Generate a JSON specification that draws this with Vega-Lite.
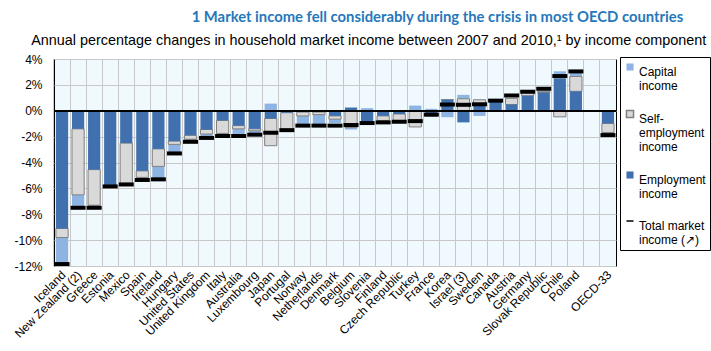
{
  "$schema": "https://vega.github.io/schema/vega-lite/v6.json",
  "background": "white",
  "padding": {"left": 11, "right": 2, "top": 10, "bottom": 4},
  "title": {
    "text": "1 Market income fell considerably during the crisis in most OECD countries",
    "anchor": "start", "frame": "bounds", "dx": 180,
    "font": "Lato", "fontSize": 14.8, "fontWeight": "bold", "color": "#2677bb", "offset": 7
  },
  "datasets": {
    "income": [
      {"country": "Iceland", "Employment income": -9.1, "Self-employment income": -0.7, "Capital income": -2.1, "Total": -11.85},
      {"country": "New Zealand (2)", "Employment income": -1.4, "Self-employment income": -5.1, "Capital income": -0.9, "Total": -7.5},
      {"country": "Greece", "Employment income": -4.55, "Self-employment income": -2.75, "Capital income": -0.05, "Total": -7.5},
      {"country": "Estonia", "Employment income": -5.8, "Self-employment income": 0, "Capital income": 0.05, "Total": -5.85},
      {"country": "Mexico", "Employment income": -2.5, "Self-employment income": -3.1, "Capital income": -0.15, "Total": -5.7},
      {"country": "Spain", "Employment income": -4.65, "Self-employment income": -0.5, "Capital income": -0.05, "Total": -5.35},
      {"country": "Ireland", "Employment income": -2.95, "Self-employment income": -1.35, "Capital income": -1.15, "Total": -5.3},
      {"country": "Hungary", "Employment income": -2.35, "Self-employment income": -0.25, "Capital income": -0.6, "Total": -3.3},
      {"country": "United States", "Employment income": -1.9, "Self-employment income": -0.3, "Capital income": -0.1, "Total": -2.4},
      {"country": "United Kingdom", "Employment income": -1.45, "Self-employment income": -0.35, "Capital income": -0.15, "Total": -2.1},
      {"country": "Italy", "Employment income": -0.75, "Self-employment income": -1.0, "Capital income": -0.15, "Total": -1.95},
      {"country": "Australia", "Employment income": -1.15, "Self-employment income": -0.25, "Capital income": -0.45, "Total": -1.95},
      {"country": "Luxembourg", "Employment income": -1.4, "Self-employment income": -0.15, "Capital income": -0.2, "Total": -1.85},
      {"country": "Japan", "Employment income": -0.6, "Self-employment income": -2.1, "Capital income": 0.55, "Total": -1.7},
      {"country": "Portugal", "Employment income": -0.15, "Self-employment income": -1.3, "Capital income": 0, "Total": -1.5},
      {"country": "Norway", "Employment income": -0.1, "Self-employment income": -0.3, "Capital income": -0.7, "Total": -1.15},
      {"country": "Netherlands", "Employment income": -0.1, "Self-employment income": -0.2, "Capital income": -0.75, "Total": -1.15},
      {"country": "Denmark", "Employment income": -0.4, "Self-employment income": -0.25, "Capital income": -0.3, "Total": -1.15},
      {"country": "Belgium", "Employment income": 0.25, "Self-employment income": -1.3, "Capital income": -0.15, "Total": -1.1},
      {"country": "Slovenia", "Employment income": -0.8, "Self-employment income": 0, "Capital income": 0.2, "Total": -0.95},
      {"country": "Finland", "Employment income": -0.4, "Self-employment income": -0.35, "Capital income": -0.1, "Total": -0.9},
      {"country": "Czech Republic", "Employment income": -0.25, "Self-employment income": -0.5, "Capital income": -0.05, "Total": -0.85},
      {"country": "Turkey", "Employment income": -0.05, "Self-employment income": -1.2, "Capital income": 0.4, "Total": -0.8},
      {"country": "France", "Employment income": -0.45, "Self-employment income": 0, "Capital income": 0.15, "Total": -0.3},
      {"country": "Korea", "Employment income": 0.85, "Self-employment income": 0, "Capital income": -0.5, "Total": 0.48},
      {"country": "Israel (3)", "Employment income": -0.9, "Self-employment income": 0.93, "Capital income": 0.3, "Total": 0.46},
      {"country": "Sweden", "Employment income": 0.55, "Self-employment income": 0.3, "Capital income": -0.4, "Total": 0.5},
      {"country": "Canada", "Employment income": 0.7, "Self-employment income": 0, "Capital income": 0, "Total": 0.78},
      {"country": "Austria", "Employment income": 0.48, "Self-employment income": 0.48, "Capital income": 0, "Total": 1.18},
      {"country": "Germany", "Employment income": 1.16, "Self-employment income": 0.22, "Capital income": -0.1, "Total": 1.47},
      {"country": "Slovak Republic", "Employment income": 1.4, "Self-employment income": 0.1, "Capital income": 0, "Total": 1.7},
      {"country": "Chile", "Employment income": 2.5, "Self-employment income": -0.47, "Capital income": 0.55, "Total": 2.68},
      {"country": "Poland", "Employment income": 1.5, "Self-employment income": 1.15, "Capital income": 0.3, "Total": 3.04},
      {"country": "OECD-33", "Employment income": -0.98, "Self-employment income": -0.7, "Capital income": -0.05, "Total": -1.88}
    ]
  },
  "vconcat": [
    {
      "title": {
        "text": "Annual percentage changes in household market income between 2007 and 2010,¹ by income component",
        "anchor": "start", "frame": "bounds", "dx": 19,
        "font": "Liberation Sans", "fontSize": 14.4, "fontWeight": "normal", "color": "black", "offset": 5
      },
      "width": 562,
      "height": 207,
      "data": {"name": "income"},
      "layer": [
        {
          "transform": [
            {"fold": ["Capital income", "Self-employment income", "Employment income"], "as": ["component", "value"]},
            {"calculate": "indexof(['Employment income','Self-employment income','Capital income'], datum.component)", "as": "ord"}
          ],
          "mark": {"type": "bar"},
          "encoding": {
            "x": {
              "field": "country", "type": "nominal",
              "scale": {
                "domain": ["Iceland", "New Zealand (2)", "Greece", "Estonia", "Mexico", "Spain", "Ireland", "Hungary", "United States", "United Kingdom", "Italy", "Australia", "Luxembourg", "Japan", "Portugal", "Norway", "Netherlands", "Denmark", "Belgium", "Slovenia", "Finland", "Czech Republic", "Turkey", "France", "Korea", "Israel (3)", "Sweden", "Canada", "Austria", "Germany", "Slovak Republic", "Chile", "Poland", " ", "OECD-33"],
                "paddingInner": 0.24, "paddingOuter": 0.12
              },
              "axis": {
                "title": null, "labelAngle": -45, "grid": true, "bandPosition": -0.158,
                "labelOffset": -2, "ticks": false, "domain": false,
                "labelFont": "Liberation Sans", "labelFontSize": 12, "labelColor": "black", "labelPadding": 3
              }
            },
            "y": {
              "field": "value", "type": "quantitative", "stack": "zero",
              "scale": {"domain": [-12, 4], "nice": false},
              "axis": {
                "title": null, "values": [-12, -10, -8, -6, -4, -2, 0, 2, 4], "tickCount": 9,
                "labelExpr": "datum.value + '%'", "ticks": false, "domain": false, "labelOverlap": false,
                "labelFont": "Liberation Sans", "labelFontSize": 12, "labelColor": "black", "labelPadding": 12
              }
            },
            "color": {
              "field": "component", "type": "nominal",
              "scale": {
                "domain": ["Capital income", "Self-employment income", "Employment income", "Total market income (↗)"],
                "range": ["#8db4e2", "#d9d9d9", "#4070ad", "#000000"]
              },
              "legend": {
                "title": null,
                "orient": "none", "legendX": 566, "legendY": -2,
                "symbolType": {"expr": "indexof(datum.value, 'Total') === 0 ? 'stroke' : 'square'"},
                "symbolStrokeColor": {"expr": "datum.value === 'Self-employment income' ? '#7f7f7f' : indexof(datum.value, 'Total') === 0 ? '#000000' : 'transparent'"},
                "labelExpr": "datum.label == 'Capital income' ? ['Capital','income'] : datum.label == 'Self-employment income' ? ['Self-','employment','income'] : datum.label == 'Employment income' ? ['Employment','income'] : ['Total market','income (↗)']",
                "encode": {
                  "labels": {"dy": {"value": -7}}
                }
              }
            },
            "stroke": {
              "condition": {"test": "datum.component === 'Self-employment income'", "value": "#7f7f7f"},
              "value": null
            },
            "order": {"field": "ord", "type": "quantitative"}
          }
        },
        {
          "mark": {"type": "rule", "color": "black", "strokeWidth": 1},
          "encoding": {
            "y": {
              "datum": 0, "type": "quantitative",
              "axis": {
                "title": null, "values": [-12, -10, -8, -6, -4, -2, 0, 2, 4], "tickCount": 9,
                "labelExpr": "datum.value + '%'", "ticks": false, "domain": false, "labelOverlap": false,
                "labelFont": "Liberation Sans", "labelFontSize": 12, "labelColor": "black", "labelPadding": 12
              }
            }
          }
        },
        {
          "mark": {"type": "tick", "thickness": 4, "size": 15, "opacity": 1},
          "encoding": {
            "x": {"field": "country", "type": "nominal"},
            "y": {
              "field": "Total", "type": "quantitative",
              "axis": {
                "title": null, "values": [-12, -10, -8, -6, -4, -2, 0, 2, 4], "tickCount": 9,
                "labelExpr": "datum.value + '%'", "ticks": false, "domain": false, "labelOverlap": false,
                "labelFont": "Liberation Sans", "labelFontSize": 12, "labelColor": "black", "labelPadding": 12
              }
            },
            "color": {"datum": "Total market income (↗)"}
          }
        }
      ]
    }
  ],
  "config": {
    "view": {"stroke": "black", "strokeWidth": 1, "fill": "#f0fafe"},
    "axis": {"gridColor": "#c8c8c8", "gridWidth": 1, "gridOpacity": 1},
    "axisY": {"labelOverlap": false},
    "legend": {
      "padding": 4, "labelOffset": 3,
      "strokeColor": "black", "fillColor": "white",
      "labelFont": "Liberation Sans", "labelFontSize": 12, "labelColor": "black",
      "labelBaseline": "top", "labelLimit": 200,
      "symbolSize": 50, "rowPadding": 15, "symbolStrokeWidth": 1.5
    }
  }
}
